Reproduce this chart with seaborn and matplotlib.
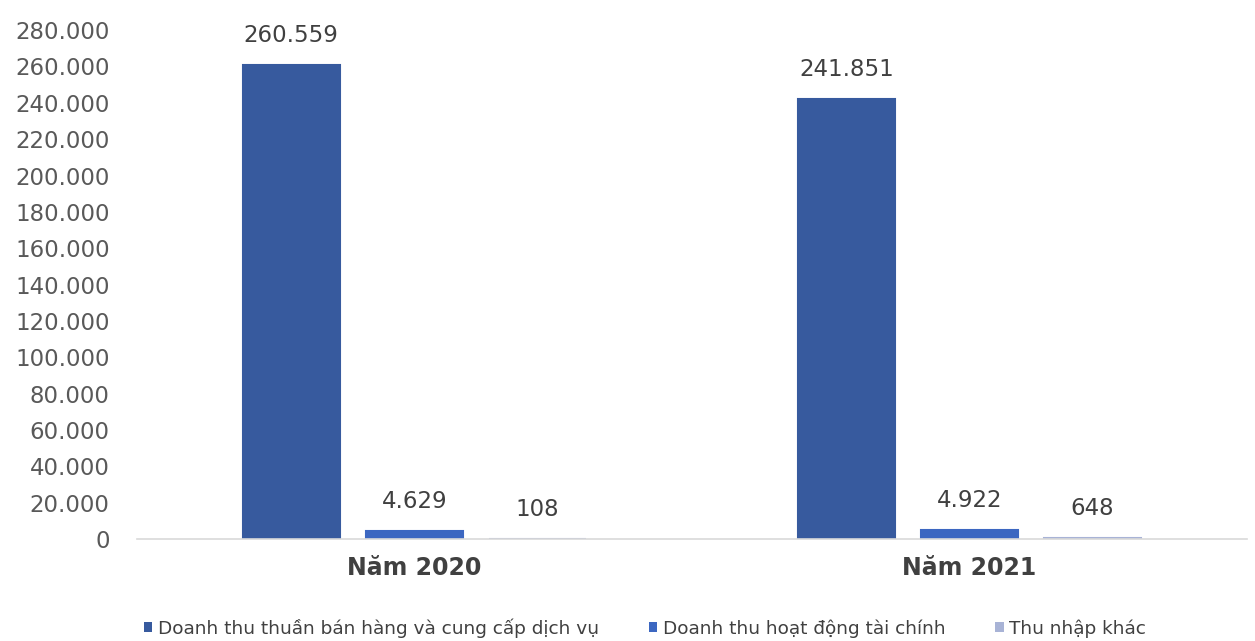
import matplotlib
matplotlib.use("Agg")
import matplotlib.pyplot as plt
from matplotlib.patches import Patch
import seaborn as sns
import pandas as pd

# Chart data
years = ["Năm 2020", "Năm 2021"]
series = [
    "Doanh thu thuần bán hàng và cung cấp dịch vụ",
    "Doanh thu hoạt động tài chính",
    "Thu nhập khác",
]
net_revenue = [260559, 241851]
financial_income = [4629, 4922]
other_income = [108, 648]
y_ticks = list(range(0, 280001, 20000))

colors = ["#375A9E", "#3C67C1", "#A8B3D6"]

rows = []
for name, vals in zip(series, [net_revenue, financial_income, other_income]):
    for yr, v in zip(years, vals):
        rows.append({"year": yr, "series": name, "value": v})
df = pd.DataFrame(rows)

sns.set_theme(style="white")
plt.rcParams["font.family"] = ["DejaVu Sans"]

fig = plt.figure(figsize=(12.55, 6.41), dpi=100)
ax = fig.add_axes([0.109, 0.159, 0.8846, 0.794])

sns.barplot(
    data=df, x="year", y="value", hue="series", order=years, hue_order=series,
    palette=colors, width=0.665, gap=0.21, saturation=1, legend=False,
    linewidth=0, ax=ax,
)

# give the very small bars a visible outline in their own colour
for cont, c in zip(ax.containers, colors):
    for p in cont.patches:
        p.set_edgecolor(c)
        p.set_linewidth(1.5)


def fmt(v):
    return f"{v:,.0f}".replace(",", ".")


for cont in ax.containers:
    ax.bar_label(cont, labels=[fmt(v) for v in cont.datavalues], padding=13,
                 fontsize=16.5, color="#404040")

ax.set_ylim(0, 280000)
ax.set_xlim(-0.5, 1.5)
ax.set_yticks(y_ticks)
ax.set_yticklabels([fmt(v) for v in y_ticks], fontsize=16.5, color="#595959")
ax.tick_params(axis="y", length=0, pad=19.5)
ax.set_xticks([0, 1])
ax.set_xticklabels(years, fontsize=17, fontweight="bold", color="#404040")
ax.set_xticks([-0.5, 0.5, 1.5], minor=True)
ax.tick_params(axis="x", which="major", length=0, pad=12)
ax.tick_params(axis="x", which="minor", length=10, width=1.2, color="#D9D9D9")
ax.set_xlabel("")
ax.set_ylabel("")

for side in ["top", "right", "left"]:
    ax.spines[side].set_visible(False)
ax.spines["bottom"].set_color("#D9D9D9")
ax.spines["bottom"].set_linewidth(1.2)
ax.grid(False)

handles = [Patch(facecolor=c, edgecolor="none") for c in colors]
fig.legend(handles, series, loc="center", bbox_to_anchor=(0.514, 0.02),
           ncol=3, frameon=False, fontsize=13.3, handlelength=0.45,
           handleheight=0.45, handletextpad=0.3, columnspacing=2.7,
           labelcolor="#404040")

fig.savefig("out.png", dpi=100, facecolor="white")
